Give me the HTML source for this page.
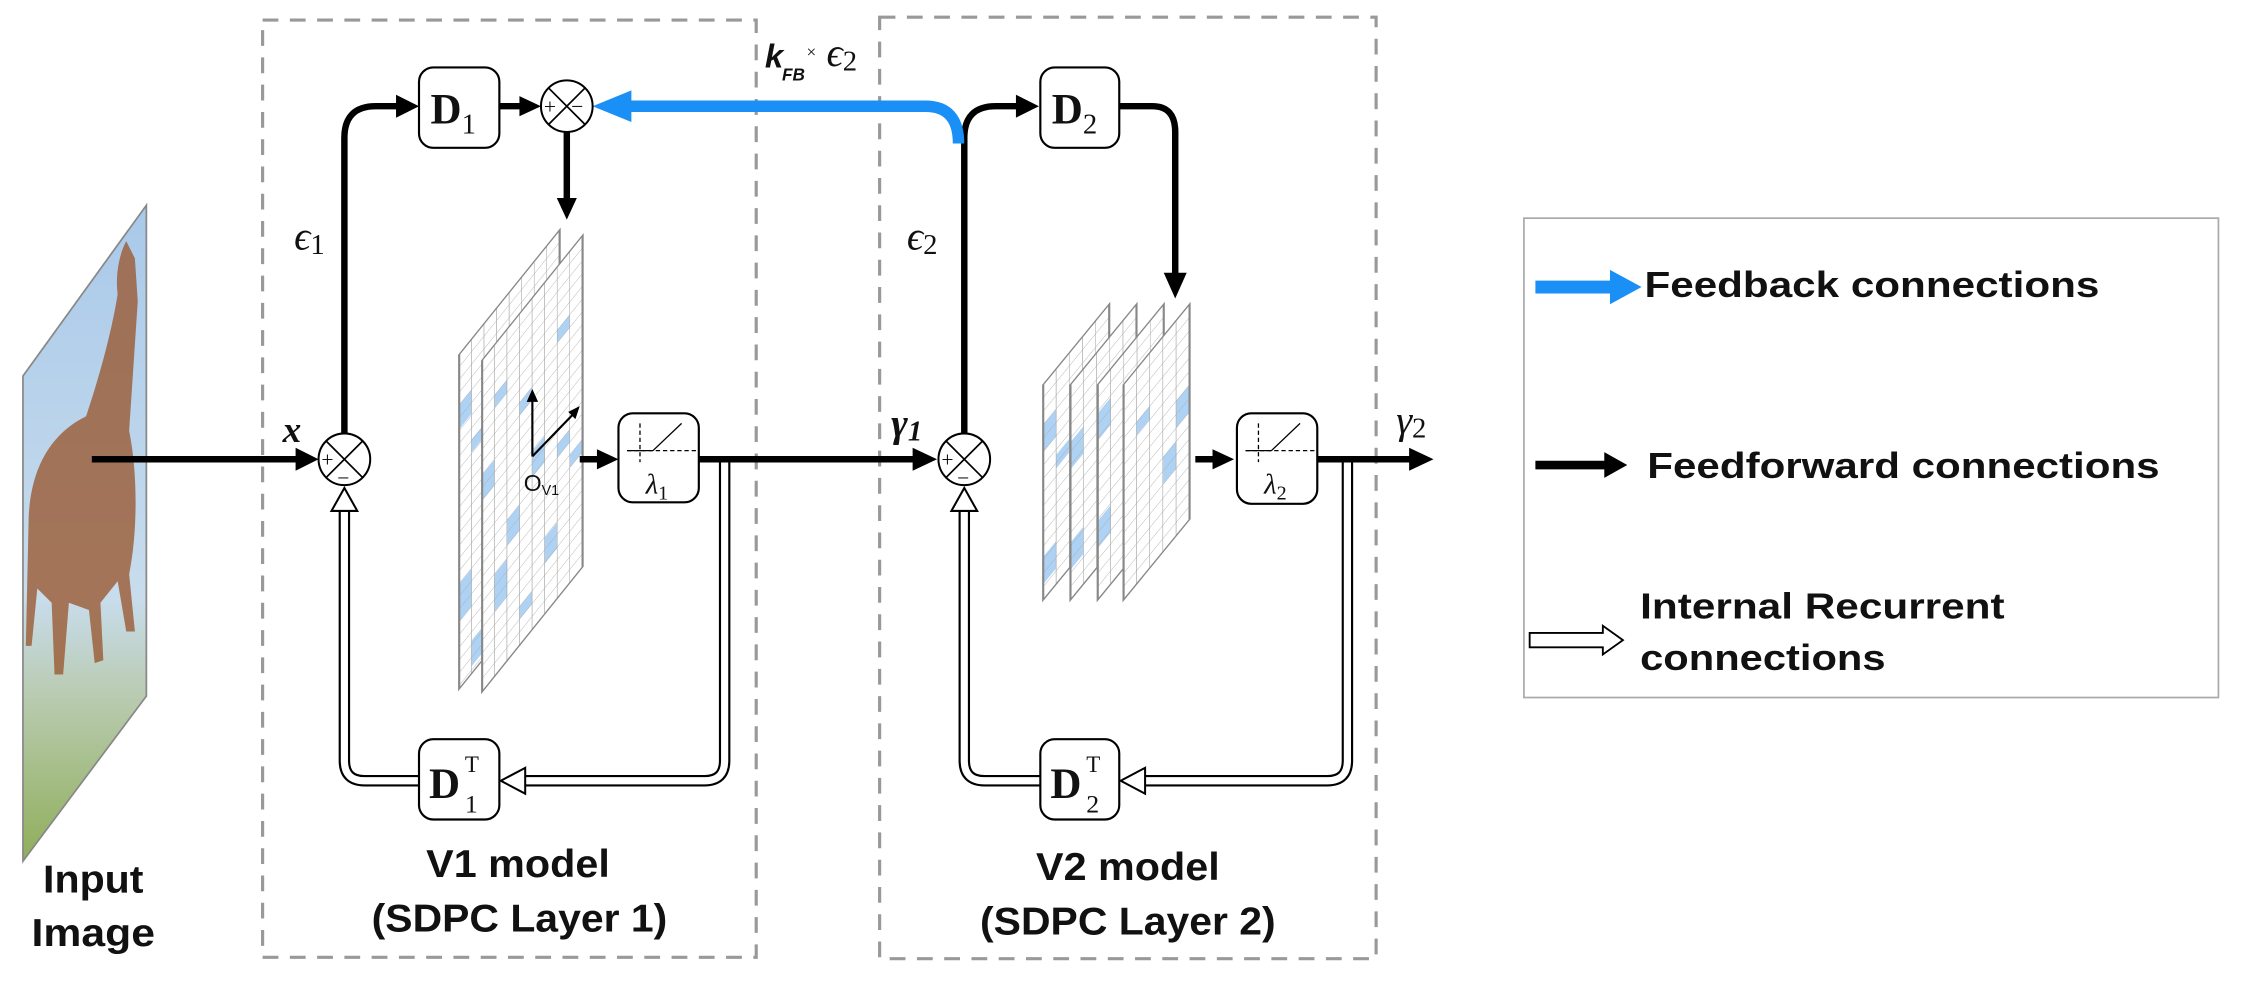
<!DOCTYPE html>
<html><head><meta charset="utf-8"><style>
html,body{margin:0;padding:0;background:#fff;}
svg{display:block;}
.b{font-family:"Liberation Sans",sans-serif;font-weight:bold;fill:#111;}
.s{font-family:"Liberation Serif",serif;fill:#111;}
</style></head><body>
<svg width="2250" height="986" viewBox="0 0 1568 687" preserveAspectRatio="none" xmlns="http://www.w3.org/2000/svg">
<defs>
<pattern id="g1" width="8.75" height="8.88" patternUnits="userSpaceOnUse"><path d="M8.75 0V8.88M0 8.88H8.75" stroke="#aaa" stroke-width="0.9" fill="none"/></pattern>
<pattern id="g2" width="9.2" height="9.4" patternUnits="userSpaceOnUse"><path d="M9.2 0V9.4M0 9.4H9.2" stroke="#aaa" stroke-width="0.9" fill="none"/></pattern>
<linearGradient id="sky" x1="0" y1="0" x2="0" y2="1"><stop offset="0" stop-color="#a9c9ea"/><stop offset="0.6" stop-color="#c8dcec"/><stop offset="0.75" stop-color="#b9cbb0"/><stop offset="1" stop-color="#8fae5a"/></linearGradient>
</defs>
<rect width="1568" height="687" fill="#fff"/>

<!-- input image -->
<polygon points="16,262 102,143 102,485 16,600" fill="url(#sky)" stroke="#888" stroke-width="1.2"/>
<path d="M20,360 C22,320 40,300 60,290 C70,260 78,230 82,205 C80,190 84,175 88,168 L94,180 L96,210 C94,240 92,270 90,300 C96,330 96,370 90,400 L94,440 L88,440 L82,405 L70,420 L72,460 L66,462 L62,425 L48,420 L44,470 L38,470 L36,420 L26,410 L22,450 L18,450 Z" fill="#9a5a33" opacity="0.8"/>

<!-- dashed boxes -->
<rect x="183" y="14" width="344" height="653" fill="none" stroke="#999" stroke-width="2.2" stroke-dasharray="11,8"/>
<rect x="613" y="12" width="346" height="656" fill="none" stroke="#999" stroke-width="2.2" stroke-dasharray="11,8"/>

<!-- legend -->
<rect x="1062" y="152" width="484" height="334" fill="#fff" stroke="#aaa" stroke-width="1.2"/>
<line x1="1070" y1="200" x2="1124" y2="200" stroke="#1a8ff5" stroke-width="9"/>
<polygon points="1122,188 1144,200 1122,212" fill="#1a8ff5"/>
<text x="1146" y="207" class="b" font-size="25" textLength="317" lengthAdjust="spacingAndGlyphs">Feedback connections</text>
<line x1="1070" y1="324" x2="1120" y2="324" stroke="#000" stroke-width="6"/>
<polygon points="1118,315 1134,324 1118,333" fill="#000"/>
<text x="1148" y="333" class="b" font-size="25" textLength="357" lengthAdjust="spacingAndGlyphs">Feedforward connections</text>
<polygon points="1066,441 1117,441 1117,436 1131,446 1117,456 1117,451 1066,451" fill="#fff" stroke="#000" stroke-width="1.3"/>
<text x="1143" y="431" class="b" font-size="25" textLength="254" lengthAdjust="spacingAndGlyphs">Internal Recurrent</text>
<text x="1143" y="467" class="b" font-size="25" textLength="171" lengthAdjust="spacingAndGlyphs">connections</text>

<!-- layer1 sheets -->
<g transform="matrix(1,-1.24,0,1,320,247)">
<rect width="70" height="233" fill="#fff"/>
<rect x="0" y="35" width="8.75" height="17" fill="#aed2f4"/><rect x="0" y="160" width="8.75" height="26" fill="#aed2f4"/><rect x="8.75" y="70" width="8.75" height="9" fill="#aed2f4"/><rect x="8.75" y="210" width="8.75" height="18" fill="#aed2f4"/>
<rect width="70" height="233" fill="url(#g1)" stroke="#888" stroke-width="1.5"/>
</g>
<g transform="matrix(1,-1.243,0,1,336,251)">
<rect width="70" height="231" fill="#fff"/>
<rect x="8.75" y="35" width="8.75" height="9" fill="#aed2f4"/><rect x="0" y="80" width="8.75" height="18" fill="#aed2f4"/><rect x="26" y="62" width="8.75" height="9" fill="#aed2f4"/><rect x="35" y="107" width="8.75" height="18" fill="#aed2f4"/><rect x="17.5" y="133" width="8.75" height="18" fill="#aed2f4"/><rect x="52.5" y="124" width="8.75" height="9" fill="#aed2f4"/><rect x="8.75" y="160" width="8.75" height="26" fill="#aed2f4"/><rect x="43.75" y="178" width="8.75" height="18" fill="#aed2f4"/><rect x="61" y="142" width="8.75" height="9" fill="#aed2f4"/><rect x="26" y="204" width="8.75" height="9" fill="#aed2f4"/><rect x="52.5" y="44" width="8.75" height="9" fill="#aed2f4"/>
<rect width="70" height="231" fill="url(#g1)" stroke="#888" stroke-width="1.5"/>
</g>
<!-- axes -->
<line x1="371" y1="318" x2="371" y2="278" stroke="#000" stroke-width="1.5"/>
<polygon points="367,280 371,271 375,280" fill="#000"/>
<line x1="371" y1="318" x2="400" y2="288" stroke="#000" stroke-width="1.5"/>
<polygon points="396,287 404,283 401,292" fill="#000"/>
<text x="365" y="342" class="b" font-size="16" style="font-weight:normal">O<tspan font-size="10" dy="3">V1</tspan></text>

<!-- layer2 sheets -->
<g transform="matrix(1,-1.22,0,1,727,268)"><rect width="46" height="150" fill="#fff"/><rect x="0" y="28" width="9.2" height="19" fill="#aed2f4"/><rect x="0" y="120" width="9.2" height="19" fill="#aed2f4"/><rect x="9.2" y="60" width="9.2" height="9.4" fill="#aed2f4"/><rect width="46" height="150" fill="url(#g2)" stroke="#888" stroke-width="1.5"/></g>
<g transform="matrix(1,-1.22,0,1,746,268)"><rect width="46" height="150" fill="#fff"/><rect x="0" y="40" width="9.2" height="19" fill="#aed2f4"/><rect x="0" y="110" width="9.2" height="19" fill="#aed2f4"/><rect x="18.4" y="75" width="9.2" height="9.4" fill="#aed2f4"/><rect width="46" height="150" fill="url(#g2)" stroke="#888" stroke-width="1.5"/></g>
<g transform="matrix(1,-1.22,0,1,765,268)"><rect width="46" height="150" fill="#fff"/><rect x="0" y="20" width="9.2" height="19" fill="#aed2f4"/><rect x="0" y="95" width="9.2" height="19" fill="#aed2f4"/><rect x="27.6" y="50" width="9.2" height="9.4" fill="#aed2f4"/><rect width="46" height="150" fill="url(#g2)" stroke="#888" stroke-width="1.5"/></g>
<g transform="matrix(1,-1.22,0,1,783,268)"><rect width="46" height="150" fill="#fff"/><rect x="36.8" y="56" width="9.2" height="19" fill="#aed2f4"/><rect x="27.6" y="84" width="9.2" height="19" fill="#aed2f4"/><rect x="9.2" y="37" width="9.2" height="9.4" fill="#aed2f4"/><rect width="46" height="150" fill="url(#g2)" stroke="#888" stroke-width="1.5"/></g>

<!-- double line recurrent paths -->
<g fill="none" stroke-linejoin="round">
<path d="M505,320 V530 Q505,544 491,544 H364" stroke="#000" stroke-width="8"/>
<path d="M505,320 V530 Q505,544 491,544 H364" stroke="#fff" stroke-width="5"/>
<path d="M292,544 H254 Q240,544 240,530 V354" stroke="#000" stroke-width="8"/>
<path d="M292,544 H254 Q240,544 240,530 V354" stroke="#fff" stroke-width="5"/>
<path d="M939,320 V530 Q939,544 925,544 H796" stroke="#000" stroke-width="8"/>
<path d="M939,320 V530 Q939,544 925,544 H796" stroke="#fff" stroke-width="5"/>
<path d="M725,544 H686 Q672,544 672,530 V354" stroke="#000" stroke-width="8"/>
<path d="M725,544 H686 Q672,544 672,530 V354" stroke="#fff" stroke-width="5"/>
</g>
<g fill="#fff" stroke="#000" stroke-width="1.4">
<polygon points="366,535 349,544 366,553"/>
<polygon points="231,356 240,340 249,356"/>
<polygon points="798,535 781,544 798,553"/>
<polygon points="663,356 672,340 681,356"/>
</g>

<!-- black feedforward arrows -->
<g stroke="#000" stroke-width="4.5" fill="none">
<line x1="64" y1="320" x2="208" y2="320"/>
<path d="M240,302 V96 Q240,74 262,74 H278"/>
<line x1="348" y1="74" x2="364" y2="74"/>
<line x1="395" y1="92" x2="395" y2="138"/>
<line x1="404" y1="320" x2="418" y2="320"/>
<line x1="487" y1="320" x2="638" y2="320"/>
<path d="M672,302 V96 Q672,74 694,74 H710"/>
<path d="M780,74 H803 Q819,74 819,92 V192"/>
<line x1="833" y1="320" x2="847" y2="320"/>
<line x1="917" y1="320" x2="984" y2="320"/>
</g>
<g fill="#000">
<polygon points="206,312 222,320 206,328"/>
<polygon points="276,66 292,74 276,82"/>
<polygon points="362,67 377,74 362,81"/>
<polygon points="388,138 395,153 402,138"/>
<polygon points="416,313 431,320 416,327"/>
<polygon points="636,312 653,320 636,328"/>
<polygon points="708,66 724,74 708,82"/>
<polygon points="811,190 819,208 827,190"/>
<polygon points="845,313 860,320 845,327"/>
<polygon points="982,312 999,320 982,328"/>
</g>

<!-- feedback blue -->
<path d="M668,100 Q668,74 645,74 H438" fill="none" stroke="#1a8ff5" stroke-width="8"/>
<polygon points="440,63 413,74 440,85" fill="#1a8ff5"/>

<!-- sum nodes -->
<g stroke="#000" stroke-width="1.4" fill="#fff">
<circle cx="240" cy="320" r="18"/><circle cx="395" cy="74" r="18"/><circle cx="672" cy="320" r="18"/>
</g>
<g stroke="#000" stroke-width="1.2">
<path d="M227,307 L253,333 M253,307 L227,333"/>
<path d="M382,61 L408,87 M408,61 L382,87"/>
<path d="M659,307 L685,333 M685,307 L659,333"/>
</g>
<g class="s" font-size="15">
<text x="224" y="325">+</text><text x="235" y="338">−</text>
<text x="379" y="79">+</text><text x="398" y="79">−</text>
<text x="656" y="325">+</text><text x="667" y="338">−</text>
</g>

<!-- boxes -->
<g fill="#fff" stroke="#000" stroke-width="1.5">
<rect x="292" y="47" width="56" height="56" rx="10"/>
<rect x="725" y="47" width="55" height="56" rx="10"/>
<rect x="292" y="515" width="56" height="56" rx="10"/>
<rect x="725" y="515" width="55" height="56" rx="10"/>
<rect x="431" y="288" width="56" height="62" rx="10"/>
<rect x="862" y="288" width="56" height="63" rx="10"/>
</g>
<g class="s">
<text x="300" y="86" font-size="30" font-weight="bold">D<tspan font-size="20" font-weight="normal" dy="7">1</tspan></text>
<text x="733" y="86" font-size="30" font-weight="bold">D<tspan font-size="20" font-weight="normal" dy="7">2</tspan></text>
<text x="299" y="556" font-size="30" font-weight="bold">D</text><text x="324" y="538" font-size="16">T</text><text x="324" y="566" font-size="18">1</text>
<text x="732" y="556" font-size="30" font-weight="bold">D</text><text x="757" y="538" font-size="16">T</text><text x="757" y="566" font-size="18">2</text>
</g>
<!-- lambda boxes interior -->
<g stroke="#000" stroke-width="0.9" fill="none">
<line x1="437" y1="314" x2="485" y2="314" stroke-dasharray="3,2"/>
<line x1="446" y1="295" x2="446" y2="322" stroke-dasharray="3,2"/>
<line x1="437" y1="314" x2="455" y2="314"/>
<line x1="455" y1="314" x2="475" y2="295"/>
<line x1="868" y1="314" x2="916" y2="314" stroke-dasharray="3,2"/>
<line x1="877" y1="295" x2="877" y2="322" stroke-dasharray="3,2"/>
<line x1="868" y1="314" x2="886" y2="314"/>
<line x1="886" y1="314" x2="906" y2="295"/>
</g>
<text x="450" y="344" class="s" font-size="20" font-style="italic">λ<tspan font-size="14" font-style="normal" dy="4">1</tspan></text>
<text x="881" y="344" class="s" font-size="20" font-style="italic">λ<tspan font-size="14" font-style="normal" dy="4">2</tspan></text>

<!-- labels -->
<text x="197" y="308" class="s" font-size="26" font-style="italic" font-weight="bold">x</text>
<text x="205" y="174" class="s" font-size="28" font-style="italic">ϵ<tspan font-size="20" font-style="normal" dy="3">1</tspan></text>
<text x="632" y="174" class="s" font-size="28" font-style="italic">ϵ<tspan font-size="20" font-style="normal" dy="3">2</tspan></text>
<text x="533" y="47" class="b" font-size="23" font-style="italic">k</text>
<text x="545" y="56" class="b" font-size="12" font-style="italic">FB</text>
<text x="562" y="40" class="s" font-size="12">×</text>
<text x="576" y="46" class="s" font-size="28" font-style="italic">ϵ<tspan font-size="20" font-style="normal" dy="3">2</tspan></text>
<text x="621" y="304" class="s" font-size="28" font-style="italic" font-weight="bold">γ<tspan font-size="20" dy="3">1</tspan></text>
<text x="973" y="302" class="s" font-size="28" font-style="italic">γ<tspan font-size="20" font-style="normal" dy="3">2</tspan></text>

<text x="361" y="611" class="b" font-size="27" text-anchor="middle" textLength="128" lengthAdjust="spacingAndGlyphs">V1 model</text>
<text x="362" y="649" class="b" font-size="27" text-anchor="middle" textLength="206" lengthAdjust="spacingAndGlyphs">(SDPC Layer 1)</text>
<text x="786" y="613" class="b" font-size="27" text-anchor="middle" textLength="128" lengthAdjust="spacingAndGlyphs">V2 model</text>
<text x="786" y="651" class="b" font-size="27" text-anchor="middle" textLength="206" lengthAdjust="spacingAndGlyphs">(SDPC Layer 2)</text>
<text x="65" y="622" class="b" font-size="27" text-anchor="middle" textLength="70" lengthAdjust="spacingAndGlyphs">Input</text>
<text x="65" y="659" class="b" font-size="27" text-anchor="middle" textLength="86" lengthAdjust="spacingAndGlyphs">Image</text>
</svg>
</body></html>
